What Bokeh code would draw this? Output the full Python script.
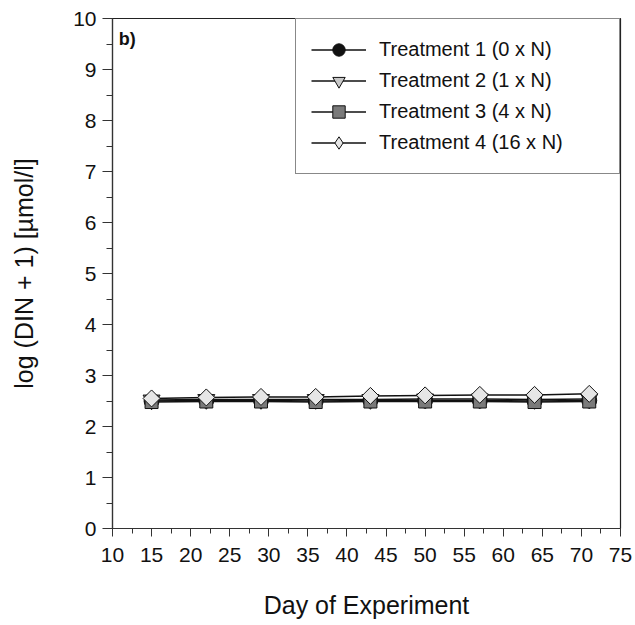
import math
from bokeh.plotting import figure
from bokeh.models import (Range1d, SingleIntervalTicker, Legend, LegendItem, Label)
from bokeh.embed import file_html
from bokeh.resources import INLINE

# Sampling days and log-transformed DIN per treatment
days = [15, 22, 29, 36, 43, 50, 57, 64, 71]
t1_vals = [2.50, 2.51, 2.51, 2.50, 2.51, 2.51, 2.51, 2.50, 2.51]
t2_vals = [2.52, 2.53, 2.53, 2.53, 2.53, 2.54, 2.54, 2.53, 2.54]
t3_vals = [2.48, 2.49, 2.49, 2.48, 2.49, 2.49, 2.49, 2.48, 2.49]
t4_vals = [2.55, 2.57, 2.58, 2.58, 2.60, 2.61, 2.62, 2.62, 2.64]

labels = ["Treatment 1 (0 x N)", "Treatment 2 (1 x N)",
          "Treatment 3 (4 x N)", "Treatment 4 (16 x N)"]

FONT = "Liberation Sans"

p = figure(width=635, height=625, output_backend="svg", toolbar_location=None,
           x_range=Range1d(10, 75), y_range=Range1d(0, 10),
           min_border_left=112, min_border_right=15,
           min_border_top=18, min_border_bottom=97)
p.background_fill_color = "white"
p.border_fill_color = "white"
p.outline_line_color = "#222222"
p.outline_line_width = 1.2
p.xgrid.visible = False
p.ygrid.visible = False

p.xaxis.ticker = SingleIntervalTicker(interval=5, num_minor_ticks=2)
p.yaxis.ticker = SingleIntervalTicker(interval=1, num_minor_ticks=2)

for ax in (p.xaxis[0], p.yaxis[0]):
    ax.axis_line_color = "#333333"
    ax.axis_line_width = 1.2
    ax.major_tick_line_color = "#333333"
    ax.minor_tick_line_color = "#333333"
    ax.major_tick_in = 0
    ax.minor_tick_in = 0
    ax.major_label_text_font = FONT
    ax.major_label_text_font_size = "21px"
    ax.major_label_text_color = "#111111"
    ax.axis_label_text_font = FONT
    ax.axis_label_text_font_size = "25px"
    ax.axis_label_text_font_style = "normal"
    ax.axis_label_text_color = "#111111"

p.xaxis.major_tick_out = 8
p.xaxis.minor_tick_out = 5
p.yaxis.major_tick_out = 10
p.yaxis.minor_tick_out = 6

p.xaxis.axis_label = "Day of Experiment"
p.yaxis.axis_label = "log (DIN + 1) [µmol/l]"
p.xaxis.major_label_standoff = 11
p.yaxis.major_label_standoff = 6
p.xaxis.axis_label_standoff = 26
p.yaxis.axis_label_standoff = 32

series = [
    (t1_vals, "circle", "#111111", 15, 0.0, "circle"),
    (t2_vals, "inverted_triangle", "#c8c8c8", 17, 0.0, "inverted_triangle"),
    (t3_vals, "square", "#7a7a7a", 13, 0.0, "square"),
    (t4_vals, "square", "#e6e6e6", 12, math.pi / 4, "diamond"),
]

items = []
for (vals, marker, fill, size, angle, key_marker), lab in zip(series, labels):
    ln = p.line(days, vals, line_color="#111111", line_width=1.5)
    sc = p.scatter(days, vals, marker=marker, size=size, angle=angle,
                   fill_color=fill, line_color="#111111", line_width=1.0)
    if key_marker == marker:
        key = sc
    else:
        # legend key glyph (the rotated square cannot be drawn rotated in a legend)
        key = p.scatter(days[:1], vals[:1], marker=key_marker, size=size,
                        fill_color=fill, line_color="#111111", line_width=1.0,
                        visible=False)
    items.append(LegendItem(label=lab, renderers=[ln, key]))

legend = Legend(items=items, location="top_right", margin=0,
                padding=15, spacing=0, glyph_width=55, glyph_height=31,
                label_standoff=13, label_width=225,
                label_text_font=FONT, label_text_font_size="20px",
                label_text_color="#111111",
                border_line_color="#111111", border_line_width=1.2,
                background_fill_color="white", background_fill_alpha=1.0)
p.add_layout(legend, "center")

p.add_layout(Label(x=10.8, y=9.8, text="b)", text_font=FONT,
                   text_font_size="18px", text_font_style="bold",
                   text_baseline="top", text_color="#111111"))

open("out.html", "w").write(file_html(p, INLINE))
